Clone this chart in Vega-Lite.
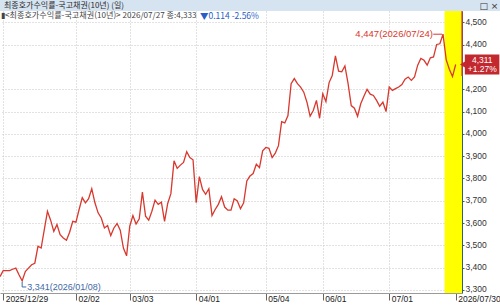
{
  "$schema": "https://vega.github.io/schema/vega-lite/v6.json",
  "width": 462,
  "height": 282,
  "autosize": {"type": "none"},
  "padding": {"left": 0, "top": 11, "right": 38, "bottom": 13},
  "background": "white",
  "config": {
    "view": {"stroke": null},
    "axis": {"labelOverlap": false, "labelBound": false, "labelFlush": false}
  },
  "data": {"values": [
    {"i": -1, "date": "2025-12-26", "v": 3.360},
    {"i": 0, "date": "2025-12-29", "v": 3.387},
    {"i": 1, "date": "2025-12-30", "v": 3.387},
    {"i": 2, "date": "2026-01-02", "v": 3.387},
    {"i": 3, "date": "2026-01-05", "v": 3.393},
    {"i": 4, "date": "2026-01-06", "v": 3.398},
    {"i": 5, "date": "2026-01-07", "v": 3.368},
    {"i": 6, "date": "2026-01-08", "v": 3.341},
    {"i": 7, "date": "2026-01-09", "v": 3.383},
    {"i": 8, "date": "2026-01-12", "v": 3.398},
    {"i": 9, "date": "2026-01-13", "v": 3.413},
    {"i": 10, "date": "2026-01-14", "v": 3.420},
    {"i": 11, "date": "2026-01-15", "v": 3.496},
    {"i": 12, "date": "2026-01-16", "v": 3.488},
    {"i": 13, "date": "2026-01-19", "v": 3.571},
    {"i": 14, "date": "2026-01-20", "v": 3.653},
    {"i": 15, "date": "2026-01-21", "v": 3.613},
    {"i": 16, "date": "2026-01-22", "v": 3.563},
    {"i": 17, "date": "2026-01-23", "v": 3.593},
    {"i": 18, "date": "2026-01-26", "v": 3.548},
    {"i": 19, "date": "2026-01-27", "v": 3.533},
    {"i": 20, "date": "2026-01-28", "v": 3.523},
    {"i": 21, "date": "2026-01-29", "v": 3.559},
    {"i": 22, "date": "2026-01-30", "v": 3.608},
    {"i": 23, "date": "2026-02-02", "v": 3.604},
    {"i": 24, "date": "2026-02-03", "v": 3.661},
    {"i": 25, "date": "2026-02-04", "v": 3.714},
    {"i": 26, "date": "2026-02-05", "v": 3.691},
    {"i": 27, "date": "2026-02-06", "v": 3.709},
    {"i": 28, "date": "2026-02-09", "v": 3.754},
    {"i": 29, "date": "2026-02-10", "v": 3.691},
    {"i": 30, "date": "2026-02-11", "v": 3.646},
    {"i": 31, "date": "2026-02-12", "v": 3.623},
    {"i": 32, "date": "2026-02-13", "v": 3.578},
    {"i": 33, "date": "2026-02-19", "v": 3.589},
    {"i": 34, "date": "2026-02-20", "v": 3.544},
    {"i": 35, "date": "2026-02-23", "v": 3.578},
    {"i": 36, "date": "2026-02-24", "v": 3.598},
    {"i": 37, "date": "2026-02-25", "v": 3.568},
    {"i": 38, "date": "2026-02-26", "v": 3.488},
    {"i": 39, "date": "2026-02-27", "v": 3.453},
    {"i": 40, "date": "2026-03-03", "v": 3.586},
    {"i": 41, "date": "2026-03-04", "v": 3.634},
    {"i": 42, "date": "2026-03-05", "v": 3.596},
    {"i": 43, "date": "2026-03-06", "v": 3.619},
    {"i": 44, "date": "2026-03-09", "v": 3.739},
    {"i": 45, "date": "2026-03-10", "v": 3.631},
    {"i": 46, "date": "2026-03-11", "v": 3.613},
    {"i": 47, "date": "2026-03-12", "v": 3.653},
    {"i": 48, "date": "2026-03-13", "v": 3.703},
    {"i": 49, "date": "2026-03-16", "v": 3.684},
    {"i": 50, "date": "2026-03-17", "v": 3.694},
    {"i": 51, "date": "2026-03-18", "v": 3.608},
    {"i": 52, "date": "2026-03-19", "v": 3.688},
    {"i": 53, "date": "2026-03-20", "v": 3.732},
    {"i": 54, "date": "2026-03-23", "v": 3.879},
    {"i": 55, "date": "2026-03-24", "v": 3.845},
    {"i": 56, "date": "2026-03-25", "v": 3.860},
    {"i": 57, "date": "2026-03-26", "v": 3.872},
    {"i": 58, "date": "2026-03-27", "v": 3.920},
    {"i": 59, "date": "2026-03-30", "v": 3.894},
    {"i": 60, "date": "2026-03-31", "v": 3.884},
    {"i": 61, "date": "2026-04-01", "v": 3.691},
    {"i": 62, "date": "2026-04-02", "v": 3.808},
    {"i": 63, "date": "2026-04-03", "v": 3.751},
    {"i": 64, "date": "2026-04-06", "v": 3.729},
    {"i": 65, "date": "2026-04-07", "v": 3.754},
    {"i": 66, "date": "2026-04-08", "v": 3.634},
    {"i": 67, "date": "2026-04-09", "v": 3.661},
    {"i": 68, "date": "2026-04-10", "v": 3.684},
    {"i": 69, "date": "2026-04-13", "v": 3.718},
    {"i": 70, "date": "2026-04-14", "v": 3.672},
    {"i": 71, "date": "2026-04-15", "v": 3.658},
    {"i": 72, "date": "2026-04-16", "v": 3.658},
    {"i": 73, "date": "2026-04-17", "v": 3.709},
    {"i": 74, "date": "2026-04-20", "v": 3.699},
    {"i": 75, "date": "2026-04-21", "v": 3.664},
    {"i": 76, "date": "2026-04-22", "v": 3.691},
    {"i": 77, "date": "2026-04-23", "v": 3.789},
    {"i": 78, "date": "2026-04-24", "v": 3.811},
    {"i": 79, "date": "2026-04-27", "v": 3.822},
    {"i": 80, "date": "2026-04-28", "v": 3.864},
    {"i": 81, "date": "2026-04-29", "v": 3.849},
    {"i": 82, "date": "2026-04-30", "v": 3.924},
    {"i": 83, "date": "2026-05-04", "v": 3.939},
    {"i": 84, "date": "2026-05-06", "v": 3.935},
    {"i": 85, "date": "2026-05-07", "v": 3.894},
    {"i": 86, "date": "2026-05-08", "v": 3.914},
    {"i": 87, "date": "2026-05-11", "v": 3.947},
    {"i": 88, "date": "2026-05-12", "v": 4.055},
    {"i": 89, "date": "2026-05-13", "v": 4.049},
    {"i": 90, "date": "2026-05-14", "v": 4.082},
    {"i": 91, "date": "2026-05-15", "v": 4.225},
    {"i": 92, "date": "2026-05-18", "v": 4.248},
    {"i": 93, "date": "2026-05-19", "v": 4.225},
    {"i": 94, "date": "2026-05-20", "v": 4.210},
    {"i": 95, "date": "2026-05-21", "v": 4.187},
    {"i": 96, "date": "2026-05-22", "v": 4.142},
    {"i": 97, "date": "2026-05-26", "v": 4.079},
    {"i": 98, "date": "2026-05-27", "v": 4.105},
    {"i": 99, "date": "2026-05-28", "v": 4.150},
    {"i": 100, "date": "2026-05-29", "v": 4.070},
    {"i": 101, "date": "2026-06-01", "v": 4.180},
    {"i": 102, "date": "2026-06-02", "v": 4.145},
    {"i": 103, "date": "2026-06-04", "v": 4.230},
    {"i": 104, "date": "2026-06-05", "v": 4.262},
    {"i": 105, "date": "2026-06-08", "v": 4.350},
    {"i": 106, "date": "2026-06-09", "v": 4.281},
    {"i": 107, "date": "2026-06-10", "v": 4.278},
    {"i": 108, "date": "2026-06-11", "v": 4.305},
    {"i": 109, "date": "2026-06-12", "v": 4.225},
    {"i": 110, "date": "2026-06-15", "v": 4.127},
    {"i": 111, "date": "2026-06-16", "v": 4.115},
    {"i": 112, "date": "2026-06-17", "v": 4.079},
    {"i": 113, "date": "2026-06-18", "v": 4.135},
    {"i": 114, "date": "2026-06-19", "v": 4.169},
    {"i": 115, "date": "2026-06-22", "v": 4.200},
    {"i": 116, "date": "2026-06-23", "v": 4.178},
    {"i": 117, "date": "2026-06-24", "v": 4.172},
    {"i": 118, "date": "2026-06-25", "v": 4.150},
    {"i": 119, "date": "2026-06-26", "v": 4.124},
    {"i": 120, "date": "2026-06-29", "v": 4.142},
    {"i": 121, "date": "2026-06-30", "v": 4.100},
    {"i": 122, "date": "2026-07-01", "v": 4.210},
    {"i": 123, "date": "2026-07-02", "v": 4.195},
    {"i": 124, "date": "2026-07-03", "v": 4.203},
    {"i": 125, "date": "2026-07-06", "v": 4.210},
    {"i": 126, "date": "2026-07-07", "v": 4.221},
    {"i": 127, "date": "2026-07-08", "v": 4.245},
    {"i": 128, "date": "2026-07-09", "v": 4.255},
    {"i": 129, "date": "2026-07-10", "v": 4.240},
    {"i": 130, "date": "2026-07-13", "v": 4.255},
    {"i": 131, "date": "2026-07-14", "v": 4.308},
    {"i": 132, "date": "2026-07-15", "v": 4.338},
    {"i": 133, "date": "2026-07-16", "v": 4.330},
    {"i": 134, "date": "2026-07-17", "v": 4.308},
    {"i": 135, "date": "2026-07-20", "v": 4.341},
    {"i": 136, "date": "2026-07-21", "v": 4.345},
    {"i": 137, "date": "2026-07-22", "v": 4.401},
    {"i": 138, "date": "2026-07-23", "v": 4.404},
    {"i": 139, "date": "2026-07-24", "v": 4.447},
    {"i": 140, "date": "2026-07-27", "v": 4.333},
    {"i": 141, "date": "2026-07-28", "v": 4.290},
    {"i": 142, "date": "2026-07-29", "v": 4.257},
    {"i": 143, "date": "2026-07-30", "v": 4.311}
  ]},
  "layer": [
    {
      "data": {"values": [{}]},
      "mark": {"type": "rect", "color": "#ffff00"},
      "encoding": {
        "x": {
          "datum": 139.5, "type": "quantitative",
          "scale": {"domain": [-1, 145], "nice": false, "zero": false},
          "axis": {
            "title": null,
            "orient": "bottom",
            "values": [0, 23, 40, 61, 83, 101, 122, 143],
            "tickCount": 30,
            "labelExpr": "datum.value == 0 ? '2025/12/29' : datum.value == 23 ? '02/02' : datum.value == 40 ? '03/03' : datum.value == 61 ? '04/01' : datum.value == 83 ? '05/04' : datum.value == 101 ? '06/01' : datum.value == 122 ? '07/01' : '2026/07/30'",
            "labelAlign": "left",
            "labelBaseline": "top",
            "labelOffset": 2,
            "labelPadding": -6,
            "labelFont": "Liberation Sans Narrow, Liberation Sans",
            "labelFontSize": 8.5,
            "labelColor": "#222222",
            "labelOverlap": false,
            "tickSize": 7,
            "tickColor": "#666666",
            "domainColor": "#9a9a9a",
            "grid": true,
            "gridColor": "#c4c4c4",
            "gridDash": [1, 2],
            "gridOpacity": {"condition": {"test": "datum.value == 143", "value": 0}, "value": 1}
          }
        },
        "x2": {"datum": 145},
        "y": {
          "datum": 4.551, "type": "quantitative",
          "scale": {"domain": [3.2865, 4.551], "nice": false, "zero": false},
          "axis": {
            "title": null,
            "orient": "right",
            "values": [3.3, 3.4, 3.5, 3.6, 3.7, 3.8, 3.9, 4.0, 4.1, 4.2, 4.4, 4.5],
            "tickCount": 30,
            "labelExpr": "replace(format(datum.value, '.3f'), '.', ',')",
            "labelFont": "Liberation Sans Narrow, Liberation Sans",
            "labelFontSize": 8.5,
            "labelColor": "#333333",
            "labelPadding": 1,
            "labelOffset": -1,
            "labelOverlap": false,
            "tickSize": 2,
            "tickColor": "#2e6468",
            "domainColor": "#2e6468",
            "grid": true,
            "gridColor": "#c4c4c4",
            "gridDash": [1, 2]
          }
        },
        "y2": {"datum": 3.2865}
      }
    },
    {
      "mark": {"type": "line", "color": "#d8382d", "strokeWidth": 1.3},
      "encoding": {
        "x": {"field": "i", "type": "quantitative"},
        "y": {"field": "v", "type": "quantitative"}
      }
    },
    {
      "data": {"values": [{}]},
      "mark": {"type": "rule", "color": "#d8382d", "strokeWidth": 1.2},
      "encoding": {
        "x": {"datum": 145, "type": "quantitative"},
        "y": {"datum": 4.551, "type": "quantitative"},
        "y2": {"datum": 4.26}
      }
    },
    {
      "data": {"values": [{}]},
      "mark": {"type": "rect", "color": "#c3282e"},
      "encoding": {
        "x": {"datum": 145.9, "type": "quantitative"},
        "x2": {"datum": 156.8},
        "y": {"datum": 4.356, "type": "quantitative"},
        "y2": {"datum": 4.266}
      }
    },
    {
      "data": {"values": [{}]},
      "mark": {"type": "point", "shape": "triangle-left", "filled": true, "color": "#c3282e", "opacity": 1, "size": 70},
      "encoding": {
        "x": {"datum": 145.5, "type": "quantitative"},
        "y": {"datum": 4.311, "type": "quantitative"}
      }
    },
    {
      "data": {"values": [{"label": "4,311"}]},
      "mark": {"type": "text", "color": "white", "font": "Liberation Sans Narrow, Liberation Sans", "fontSize": 8.5, "align": "center", "baseline": "middle", "dy": -4.5},
      "encoding": {
        "x": {"datum": 151.4, "type": "quantitative"},
        "y": {"datum": 4.311, "type": "quantitative"},
        "text": {"field": "label"}
      }
    },
    {
      "data": {"values": [{"label": "+1.27%"}]},
      "mark": {"type": "text", "color": "white", "font": "Liberation Sans Narrow, Liberation Sans", "fontSize": 8.5, "align": "center", "baseline": "middle", "dy": 4.5},
      "encoding": {
        "x": {"datum": 151.4, "type": "quantitative"},
        "y": {"datum": 4.311, "type": "quantitative"},
        "text": {"field": "label"}
      }
    },
    {
      "data": {"values": [{"i": 139, "v": 4.447, "label": "4,447(2026/07/24)"}]},
      "mark": {"type": "text", "color": "#d8382d", "font": "Liberation Sans", "fontSize": 9.5, "align": "right", "baseline": "middle", "dx": -10},
      "encoding": {
        "x": {"field": "i", "type": "quantitative"},
        "y": {"field": "v", "type": "quantitative"},
        "text": {"field": "label"}
      }
    },
    {
      "data": {"values": [{}]},
      "mark": {"type": "rule", "color": "#d8382d", "strokeWidth": 1},
      "encoding": {
        "x": {"datum": 135.9, "type": "quantitative"},
        "x2": {"datum": 138.7},
        "y": {"datum": 4.447, "type": "quantitative"}
      }
    },
    {
      "data": {"values": [{}]},
      "mark": {"type": "rule", "color": "#3f6aa6", "strokeWidth": 1},
      "encoding": {
        "x": {"datum": 6, "type": "quantitative"},
        "y": {"datum": 3.336, "type": "quantitative"},
        "y2": {"datum": 3.3135}
      }
    },
    {
      "data": {"values": [{}]},
      "mark": {"type": "rule", "color": "#3f6aa6", "strokeWidth": 1},
      "encoding": {
        "x": {"datum": 6, "type": "quantitative"},
        "x2": {"datum": 7.3},
        "y": {"datum": 3.3135, "type": "quantitative"}
      }
    },
    {
      "data": {"values": [{"i": 6, "v": 3.341, "label": "3,341(2026/01/08)"}]},
      "mark": {"type": "text", "color": "#3f6aa6", "font": "Liberation Sans Narrow, Liberation Sans", "fontSize": 9, "align": "left", "baseline": "middle", "dx": 5},
      "encoding": {
        "x": {"field": "i", "type": "quantitative"},
        "y": {"datum": 3.3135, "type": "quantitative"},
        "text": {"field": "label"}
      }
    },
    {
      "data": {"values": [{"label": "▮<최종호가수익률-국고채권(10년)> 2026/07/27 종:4,333"}]},
      "mark": {"type": "text", "color": "#444444", "font": "Liberation Sans Narrow, Noto Sans CJK KR", "fontSize": 8.1, "align": "left", "baseline": "middle", "dx": 1},
      "encoding": {
        "x": {"datum": -1, "type": "quantitative"},
        "y": {"datum": 4.5287, "type": "quantitative"},
        "text": {"field": "label"}
      }
    },
    {
      "data": {"values": [{"label": "▼0.114  -2.56%"}]},
      "mark": {"type": "text", "color": "#2a5cc8", "font": "Liberation Sans Narrow, Noto Sans CJK KR", "fontSize": 8.5, "align": "left", "baseline": "middle"},
      "encoding": {
        "x": {"datum": 62.2, "type": "quantitative"},
        "y": {"datum": 4.5287, "type": "quantitative"},
        "text": {"field": "label"}
      }
    },
    {
      "data": {"values": [{}]},
      "mark": {"type": "rect", "color": "#d6e4f1"},
      "encoding": {
        "x": {"datum": -1, "type": "quantitative"},
        "x2": {"datum": 157},
        "y": {"datum": 4.6003, "type": "quantitative"},
        "y2": {"datum": 4.551}
      }
    },
    {
      "data": {"values": [{"label": "최종호가수익률-국고채권(10년) (일)"}]},
      "mark": {"type": "text", "color": "#2b2b2b", "font": "Liberation Sans Narrow, Noto Sans CJK KR", "fontSize": 8, "align": "left", "baseline": "middle", "dx": 4},
      "encoding": {
        "x": {"datum": -1, "type": "quantitative"},
        "y": {"datum": 4.5754, "type": "quantitative"},
        "text": {"field": "label"}
      }
    },
    {
      "data": {"values": [{"label": "□ ×"}]},
      "mark": {"type": "text", "color": "#333333", "font": "DejaVu Sans", "fontSize": 9, "align": "center", "baseline": "middle"},
      "encoding": {
        "x": {"datum": 153.5, "type": "quantitative"},
        "y": {"datum": 4.5754, "type": "quantitative"},
        "text": {"field": "label"}
      }
    }
  ]
}
